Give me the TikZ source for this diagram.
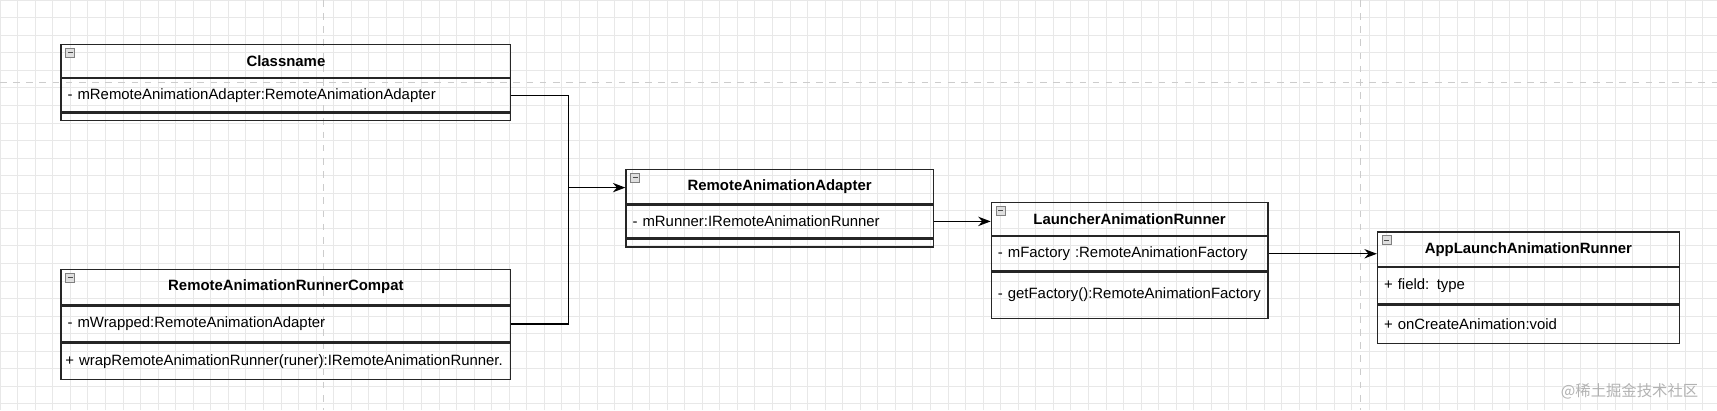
\documentclass[tikz,border=0pt]{standalone}
\usepackage{fontspec}
\setmainfont{Liberation Sans}
\newfontfamily\cjk{Noto Sans CJK SC}
\usetikzlibrary{arrows.meta}
\tikzset{
  box/.style={draw=black!85, line width=0.6pt, anchor=north west, inner sep=0pt},
  hdr/.style={box, font=\fontsize{6.8}{8}\selectfont\bfseries, align=center},
  row/.style={box, font=\fontsize{6.8}{8}\selectfont, align=left, inner xsep=3pt},
  icon/.style={draw=gray, fill=gray!25, minimum size=4pt, inner sep=0pt,
    path picture={\draw[black!70, line width=0.5pt] ([xshift=0.8pt]path picture bounding box.west) -- ([xshift=-0.8pt]path picture bounding box.east);}},
  link/.style={line width=0.6pt},
}
\begin{document}
\begin{tikzpicture}[x=0.5pt, y=-0.5pt]
  \useasboundingbox (0,0) rectangle (1565,374);
  % grid
  \draw[gray!18, line width=0.3pt, step=8pt] (0,0) grid (1565,374);
  \draw[gray!40, dashed, line width=0.4pt] (295,0) -- (295,374) (1240,0) -- (1240,374) (0,75) -- (1565,75);

  % Classname
  \node[hdr, minimum width=205pt, minimum height=15pt] (c1h) at (55,40) {Classname};
  \node[row, text width=199pt, minimum height=15pt] (c1a) at (c1h.south west) {- mRemoteAnimationAdapter:RemoteAnimationAdapter};
  \node[box, minimum width=205pt, minimum height=3.5pt] (c1o) at (c1a.south west) {};
  \node[icon] (c1i) at ([shift={(4.5pt,-4pt)}]c1h.north west) {};

  % RemoteAnimationRunnerCompat
  \node[hdr, minimum width=205pt, minimum height=16pt] (c2h) at (55,245) {RemoteAnimationRunnerCompat};
  \node[row, text width=199pt, minimum height=16.5pt] (c2a) at (c2h.south west) {- mWrapped:RemoteAnimationAdapter};
  \node[row, text width=201pt, minimum height=16.5pt, inner xsep=2pt] (c2o) at (c2a.south west) {\mbox{+ wrapRemoteAnimationRunner(runer):IRemoteAnimationRunner.}};
  \node[icon] (c2i) at ([shift={(4.5pt,-4pt)}]c2h.north west) {};

  % RemoteAnimationAdapter
  \node[hdr, minimum width=140pt, minimum height=15.5pt] (ah) at (570,154) {RemoteAnimationAdapter};
  \node[row, text width=134pt, minimum height=15pt] (aa) at (ah.south west) {- mRunner:IRemoteAnimationRunner};
  \node[box, minimum width=140pt, minimum height=3.5pt] (ao) at (aa.south west) {};
  \node[icon] (ai) at ([shift={(4.5pt,-4pt)}]ah.north west) {};

  % LauncherAnimationRunner
  \node[hdr, minimum width=126pt, minimum height=15pt] (lh) at (903,184) {LauncherAnimationRunner};
  \node[row, text width=120pt, minimum height=15.5pt] (la) at (lh.south west) {- mFactory :RemoteAnimationFactory};
  \node[row, text width=120pt, minimum height=21pt] (lo) at (la.south west) {- getFactory():RemoteAnimationFactory};
  \node[icon] (li) at ([shift={(4.5pt,-4pt)}]lh.north west) {};

  % AppLaunchAnimationRunner
  \node[hdr, minimum width=137.5pt, minimum height=15.5pt] (ph) at (1255,211) {AppLaunchAnimationRunner};
  \node[row, text width=131.5pt, minimum height=16.5pt] (pa) at (ph.south west) {+ field: type};
  \node[row, text width=131.5pt, minimum height=17.5pt] (po) at (pa.south west) {+ onCreateAnimation:void};
  \node[icon] (pi) at ([shift={(4.5pt,-4pt)}]ph.north west) {};

  % connectors
  \coordinate (jn) at (518,171);
  \draw[link] (c1a.east) -| (jn);
  \draw[link] (c2a.east) -| (jn);
  \draw[link, -Stealth] (jn) -- (jn -| ah.west);
  \draw[link, -Stealth] (aa.east) -- (aa.east -| lh.west);
  \draw[link, -Stealth] (la.east) -- (la.east -| ph.west);

  \node[gray!60, font=\cjk\fontsize{7}{8}\selectfont, anchor=east] (wm) at (1555,357) {@稀土掘金技术社区};
\end{tikzpicture}
\end{document}
